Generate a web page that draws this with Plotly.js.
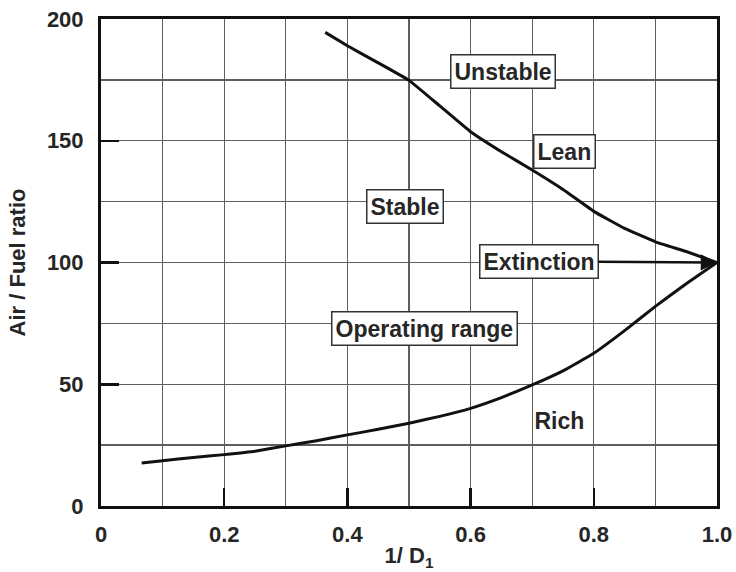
<!DOCTYPE html>
<html>
<head>
<meta charset="utf-8">
<script src="https://cdn.plot.ly/plotly-3.0.1.min.js"></script>
<style>html,body{margin:0;padding:0;background:#fff;}#chart{width:736px;height:572px;}</style>
</head>
<body>
<div id="chart"></div>
<script>
// Upper (lean) stability limit
const upperX = [0.364, 0.40, 0.45, 0.50, 0.55, 0.60, 0.65, 0.70, 0.75, 0.80, 0.85, 0.90, 0.95, 1.0];
const upperY = [194.5, 189, 182, 174.8, 164.3, 153.7, 145.5, 138, 130, 121, 114, 108.5, 104.5, 100];
// Lower (rich) stability limit
const lowerX = [0.066, 0.10, 0.15, 0.20, 0.25, 0.30, 0.35, 0.40, 0.45, 0.50, 0.55, 0.60, 0.65, 0.70, 0.75, 0.80, 0.85, 0.90, 0.95, 1.0];
const lowerY = [17.7, 18.6, 19.9, 21.1, 22.5, 24.7, 26.8, 29.2, 31.5, 34, 36.8, 40.1, 44.5, 49.7, 55.5, 62.7, 72, 82, 91.3, 100];

const xTickVals = [0, 0.2, 0.4, 0.6, 0.8, 1.0];
const xTickText = ['0', '0.2', '0.4', '0.6', '0.8', '1.0'];
const yTickVals = [0, 50, 100, 150, 200];
const yTickText = ['0', '50', '100', '150', '200'];

const labelText = ['Unstable', 'Lean', 'Stable', 'Operating range', 'Rich'];
const labelX = [0.653, 0.753, 0.494, 0.525, 0.745];
const labelY = [178.4, 145.6, 122.8, 72.7, 35];
const labelBoxed = [true, true, true, true, false];

const arrowText = 'Extinction';
const arrowTailX = 0.711, arrowTailY = 100.4;
const arrowHeadX = 1.0, arrowHeadY = 100;

const FONT = 'Liberation Sans, Arial, sans-serif';
const TXT = '#262626';
const lineStyle = {color: '#111', width: 3, shape: 'spline', smoothing: 0.3};

const traces = [
  {x: upperX, y: upperY, mode: 'lines', line: lineStyle, cliponaxis: false, hoverinfo: 'skip'},
  {x: lowerX, y: lowerY, mode: 'lines', line: lineStyle, cliponaxis: false, hoverinfo: 'skip'}
];

const annotations = labelText.map((t, i) => ({
  x: labelX[i], y: labelY[i], xref: 'x', yref: 'y',
  text: '<b>' + t + '</b>', showarrow: false,
  font: {family: FONT, size: 23, color: TXT},
  bgcolor: labelBoxed[i] ? '#fff' : 'rgba(0,0,0,0)',
  bordercolor: labelBoxed[i] ? '#333' : 'rgba(0,0,0,0)',
  borderwidth: 1.5, borderpad: 3
}));
annotations.push({
  x: arrowHeadX, y: arrowHeadY, xref: 'x', yref: 'y',
  ax: arrowTailX, ay: arrowTailY, axref: 'x', ayref: 'y',
  text: '<b>' + arrowText + '</b>', showarrow: true,
  arrowhead: 2, arrowsize: 1.3, arrowwidth: 2.5, arrowcolor: '#111',
  font: {family: FONT, size: 23, color: TXT},
  bgcolor: '#fff', bordercolor: '#333', borderwidth: 1.5, borderpad: 3
});

const gridColor = '#5e5e5e';
const layout = {
  width: 736, height: 572,
  margin: {l: 101, r: 19, t: 19, b: 66},
  paper_bgcolor: '#fff', plot_bgcolor: '#fff',
  showlegend: false,
  font: {family: FONT, color: TXT},
  xaxis: {
    range: [0, 1], tickmode: 'array', tickvals: xTickVals, ticktext: xTickText,
    ticks: 'inside', ticklen: 18, tickwidth: 2.5, tickcolor: '#111',
    ticklabelstandoff: 7,
    showgrid: true, gridcolor: gridColor, gridwidth: 1.3,
    minor: {tickmode: 'linear', tick0: 0, dtick: 0.1, showgrid: true, gridcolor: gridColor, gridwidth: 1.3, ticks: ''},
    showline: true, mirror: true, linecolor: '#111', linewidth: 3,
    zeroline: false,
    tickfont: {family: FONT, size: 22, color: TXT, weight: 'bold'},
    title: {text: '<b>1/ D<sub>1</sub></b>', font: {family: FONT, size: 22, color: TXT}, standoff: 2}
  },
  yaxis: {
    range: [0, 200], tickmode: 'array', tickvals: yTickVals, ticktext: yTickText,
    ticks: 'inside', ticklen: 18, tickwidth: 2.5, tickcolor: '#111',
    ticklabelstandoff: 10,
    showgrid: true, gridcolor: gridColor, gridwidth: 1.3,
    minor: {tickmode: 'linear', tick0: 0, dtick: 25, showgrid: true, gridcolor: gridColor, gridwidth: 1.3, ticks: ''},
    showline: true, mirror: true, linecolor: '#111', linewidth: 3,
    zeroline: false,
    tickfont: {family: FONT, size: 22, color: TXT, weight: 'bold'},
    title: {text: '<b>Air / Fuel ratio</b>', font: {family: FONT, size: 22, color: TXT}, standoff: 16}
  },
  annotations: annotations
};

Plotly.newPlot('chart', traces, layout, {staticPlot: true, displayModeBar: false});
</script>
</body>
</html>
